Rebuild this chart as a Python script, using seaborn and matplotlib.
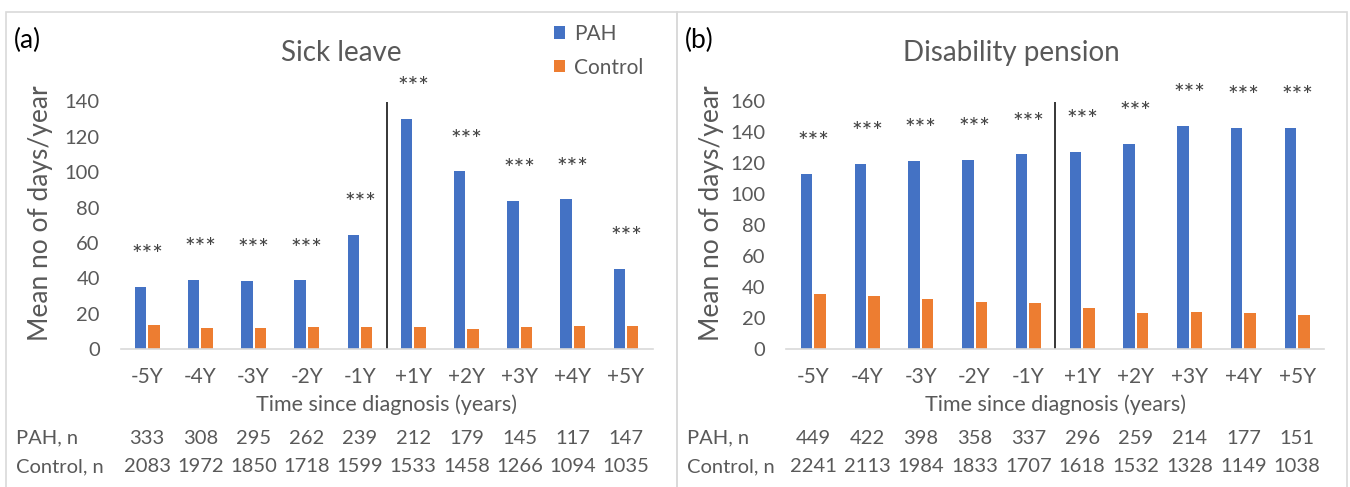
import seaborn as sns
import pandas as pd
import matplotlib.pyplot as plt
from matplotlib.patches import Rectangle
from matplotlib import transforms

periods = ['-5Y', '-4Y', '-3Y', '-2Y', '-1Y', '+1Y', '+2Y', '+3Y', '+4Y', '+5Y']
groups = ['PAH', 'Control']

# mean no of days/year
sick_pah = [35.0, 39.3, 38.4, 38.8, 64.7, 130.0, 100.5, 84.0, 84.7, 45.2]
sick_ctrl = [13.4, 11.7, 12.1, 12.6, 12.6, 12.6, 11.1, 12.6, 13.0, 13.0]
dis_pah = [113.3, 119.8, 121.7, 122.4, 125.8, 127.5, 132.7, 144.1, 143.0, 143.0]
dis_ctrl = [35.4, 33.9, 31.9, 30.0, 29.4, 26.3, 23.1, 23.5, 22.7, 21.6]

# number of subjects per year
sick_n_pah = [333, 308, 295, 262, 239, 212, 179, 145, 117, 147]
sick_n_ctrl = [2083, 1972, 1850, 1718, 1599, 1533, 1458, 1266, 1094, 1035]
dis_n_pah = [449, 422, 398, 358, 337, 296, 259, 214, 177, 151]
dis_n_ctrl = [2241, 2113, 1984, 1833, 1707, 1618, 1532, 1328, 1149, 1038]

sig = '***'

sns.set_style('white')
plt.rcParams['font.family'] = ['Lato', 'DejaVu Sans']
grey = '#595959'
colors = ['#4472C4', '#ED7D31']

W, H = 1350, 487
fig = plt.figure(figsize=(13.5, 4.87), dpi=100)


def box(x0, x1, y0, y1):
    return [x0 / W, 1 - y1 / H, (x1 - x0) / W, (y1 - y0) / H]


def make_df(pah, ctrl):
    return pd.DataFrame({
        'period': periods * 2,
        'group': ['PAH'] * len(periods) + ['Control'] * len(periods),
        'days': pah + ctrl,
    })


panels = [
    dict(tag='(a)', title='Sick leave', pah=sick_pah, ctrl=sick_ctrl,
         n_pah=sick_n_pah, n_ctrl=sick_n_ctrl, ymax=140,
         ax=box(120.6, 652.6, 101.5, 349), px0=5.7, px1=677),
    dict(tag='(b)', title='Disability pension', pah=dis_pah, ctrl=dis_ctrl,
         n_pah=dis_n_pah, n_ctrl=dis_n_ctrl, ymax=160,
         ax=box(786.4, 1324, 101.5, 348.5), px0=677, px1=1346.7),
]

for k, p in enumerate(panels):
    ax = fig.add_axes(p['ax'])
    df = make_df(p['pah'], p['ctrl'])
    sns.barplot(data=df, x='period', y='days', hue='group', order=periods,
                hue_order=groups, palette=colors, saturation=1, width=0.5,
                gap=0.14, linewidth=0, ax=ax, legend=(k == 0))
    ax.set_xlim(-0.5, len(periods) - 0.5)
    ax.set_ylim(0, p['ymax'])
    ax.set_yticks(range(0, p['ymax'] + 1, 20))
    ax.set_xlabel('')
    ax.set_ylabel('')
    for s in ['top', 'right', 'left']:
        ax.spines[s].set_visible(False)
    ax.spines['bottom'].set_color('#d9d9d9')
    ax.spines['bottom'].set_linewidth(1.2)
    ax.tick_params(axis='y', length=0, labelsize=14.5, labelcolor=grey, pad=15)
    ax.tick_params(axis='x', length=0, labelsize=15, labelcolor=grey, pad=13)

    # diagnosis divider
    ax.axvline(4.5, color='black', lw=1.1)

    for i, v in enumerate(p['pah']):
        ax.annotate(sig, xy=(i, v), xytext=(0, 22.5), textcoords='offset points',
                    ha='center', va='center', fontsize=18, color='#404040',
                    annotation_clip=False)

    # panel frame, title, tag, labels
    x0, x1 = p['px0'], p['px1']
    fig.add_artist(Rectangle((x0 / W, -0.02), (x1 - x0) / W, 1.02 - 12.3 / H,
                             transform=fig.transFigure, fill=False,
                             edgecolor='#d9d9d9', lw=1.2))
    fig.text((x0 + x1) / 2 / W, 1 - 53 / H, p['title'], ha='center',
             va='center', fontsize=20, color=grey)
    fig.text((x0 + 22) / W, 1 - 40 / H, p['tag'], ha='center', va='center',
             fontsize=19, color='black')
    fig.text((x0 + 35) / W, 1 - 213 / H, 'Mean no of days/year', rotation=90,
             ha='center', va='center', fontsize=19, color=grey)
    axc = (p['ax'][0] + p['ax'][2] / 2)
    fig.text(axc, 1 - 405 / H, 'Time since diagnosis (years)', ha='center',
             va='center', fontsize=15.5, color=grey)

    tr = transforms.blended_transform_factory(ax.transData, fig.transFigure)
    fig.text((x0 + 10) / W, 1 - 438 / H, 'PAH, n', ha='left', va='center',
             fontsize=14.5, color=grey)
    fig.text((x0 + 10) / W, 1 - 466.5 / H, 'Control, n', ha='left',
             va='center', fontsize=14.5, color=grey)
    for i in range(len(periods)):
        ax.text(i, 1 - 438 / H, str(p['n_pah'][i]), transform=tr, ha='center',
                va='center', fontsize=14.5, color=grey)
        ax.text(i, 1 - 466.5 / H, str(p['n_ctrl'][i]), transform=tr,
                ha='center', va='center', fontsize=14.5, color=grey)

    if k == 0:
        h, l = ax.get_legend_handles_labels()
        ax.legend(h, l, loc='upper left', bbox_to_anchor=(554 / W, 1 - 24 / H),
                  bbox_transform=fig.transFigure, frameon=False, fontsize=15,
                  handlelength=0.55, handleheight=0.55, handletextpad=0.4,
                  labelspacing=0.65, borderpad=0, borderaxespad=0,
                  labelcolor=grey)

fig.savefig('out.png', dpi=100)
